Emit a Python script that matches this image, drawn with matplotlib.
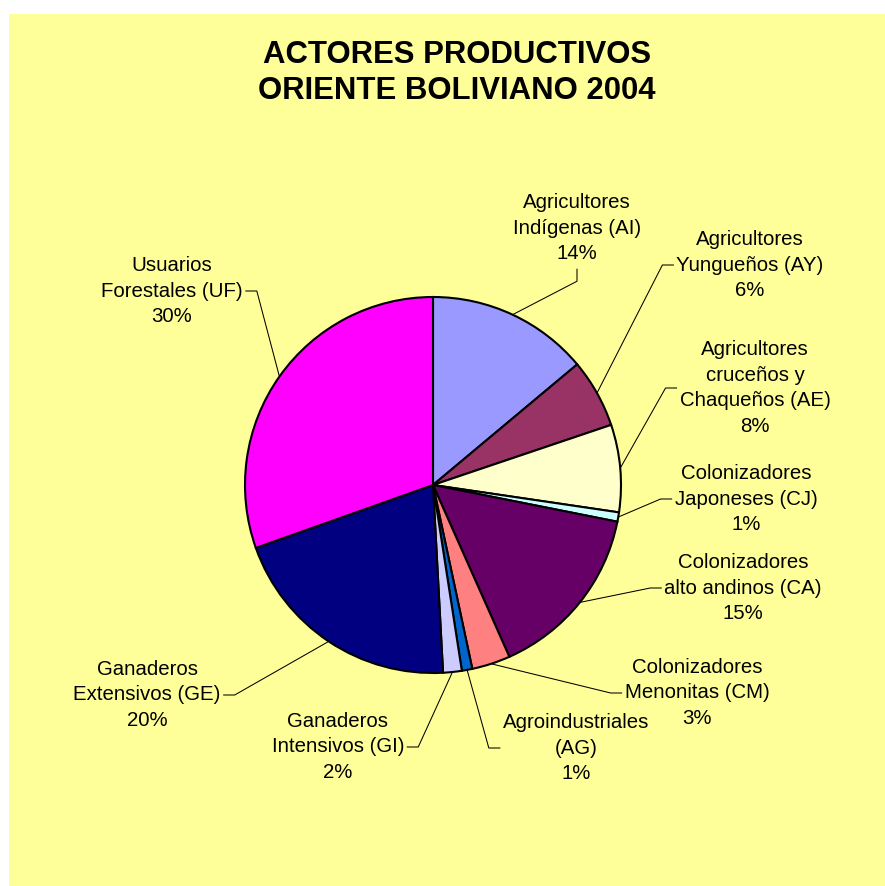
import matplotlib
matplotlib.use("Agg")
import matplotlib.pyplot as plt
from matplotlib.patches import Rectangle
import numpy as np

W, H = 885, 886

titulo = "ACTORES PRODUCTIVOS\nORIENTE BOLIVIANO 2004"

actores = [
    "Agricultores\nIndígenas (AI)",
    "Agricultores\nYungueños (AY)",
    "Agricultores\ncruceños y\nChaqueños (AE)",
    "Colonizadores\nJaponeses (CJ)",
    "Colonizadores\nalto andinos (CA)",
    "Colonizadores\nMenonitas (CM)",
    "Agroindustriales\n(AG)",
    "Ganaderos\nIntensivos (GI)",
    "Ganaderos\nExtensivos (GE)",
    "Usuarios\nForestales (UF)",
]
participacion = [13.9, 5.9, 7.5, 0.8, 15.2, 3.3, 0.9, 1.6, 20.4, 30.4]
colores = [
    "#9999FF", "#993366", "#FFFFCC", "#CCFFFF", "#660066",
    "#FF8080", "#0066CC", "#CCCCFF", "#000080", "#FF00FF",
]

# label block centres in pixels measured from the top, and where the leader leaves
label_pos = [
    (577, 228), (750, 265), (755, 388), (746, 499), (743, 588),
    (697, 693), (576, 748), (338, 747), (147, 695), (172, 291),
]
leader_side = ["bottom", "left", "left", "left", "left",
               "left", "left", "right", "right", "right"]

plt.rcParams["font.family"] = ["Liberation Sans", "DejaVu Sans"]

fig = plt.figure(figsize=(W / 100, H / 100), dpi=100, facecolor="white")
ax = fig.add_axes([0, 0, 1, 1])

# chart area
ax.add_patch(Rectangle((9, 0), W - 9, H - 14, facecolor="#FFFF99",
                       edgecolor="none", zorder=0))

centro = (433, H - 485)
radio = 188
wedges, _ = ax.pie(
    participacion,
    colors=colores,
    startangle=90,
    counterclock=False,
    center=centro,
    radius=radio,
    frame=True,
    wedgeprops={"edgecolor": "black", "linewidth": 1.5},
)
ax.set_xlim(0, W)
ax.set_ylim(0, H)
ax.set_aspect("equal")
ax.axis("off")

ax.text(457, H - 40, titulo, ha="center", va="top", fontsize=22.4,
        fontweight="bold", linespacing=1.27)

total = sum(participacion)
renderer = fig.canvas.get_renderer()
to_data = ax.transData.inverted()

for w, nombre, valor, (lx, ly), side in zip(
        wedges, actores, participacion, label_pos, leader_side):
    pct = round(valor / total * 100)
    t = ax.text(lx, H - ly, f"{nombre}\n{pct}%", ha="center", va="center",
                multialignment="center", fontsize=14.7, linespacing=1.45)
    bb = t.get_window_extent(renderer).transformed(to_data)

    # leader goes to the middle of the slice's outer edge
    ang = np.deg2rad((w.theta1 + w.theta2) / 2)
    px = centro[0] + radio * np.cos(ang)
    py = centro[1] + radio * np.sin(ang)

    cy = H - ly
    if side == "left":
        xs = [bb.x0 - 3, bb.x0 - 14, px]
        ys = [cy, cy, py]
    elif side == "right":
        xs = [bb.x1 + 3, bb.x1 + 14, px]
        ys = [cy, cy, py]
    else:
        xs = [lx, lx, px]
        ys = [bb.y0 - 6, bb.y0 - 18, py]
    ax.plot(xs, ys, color="black", linewidth=0.75, zorder=1)

fig.savefig("out.png", dpi=100, facecolor="white")
